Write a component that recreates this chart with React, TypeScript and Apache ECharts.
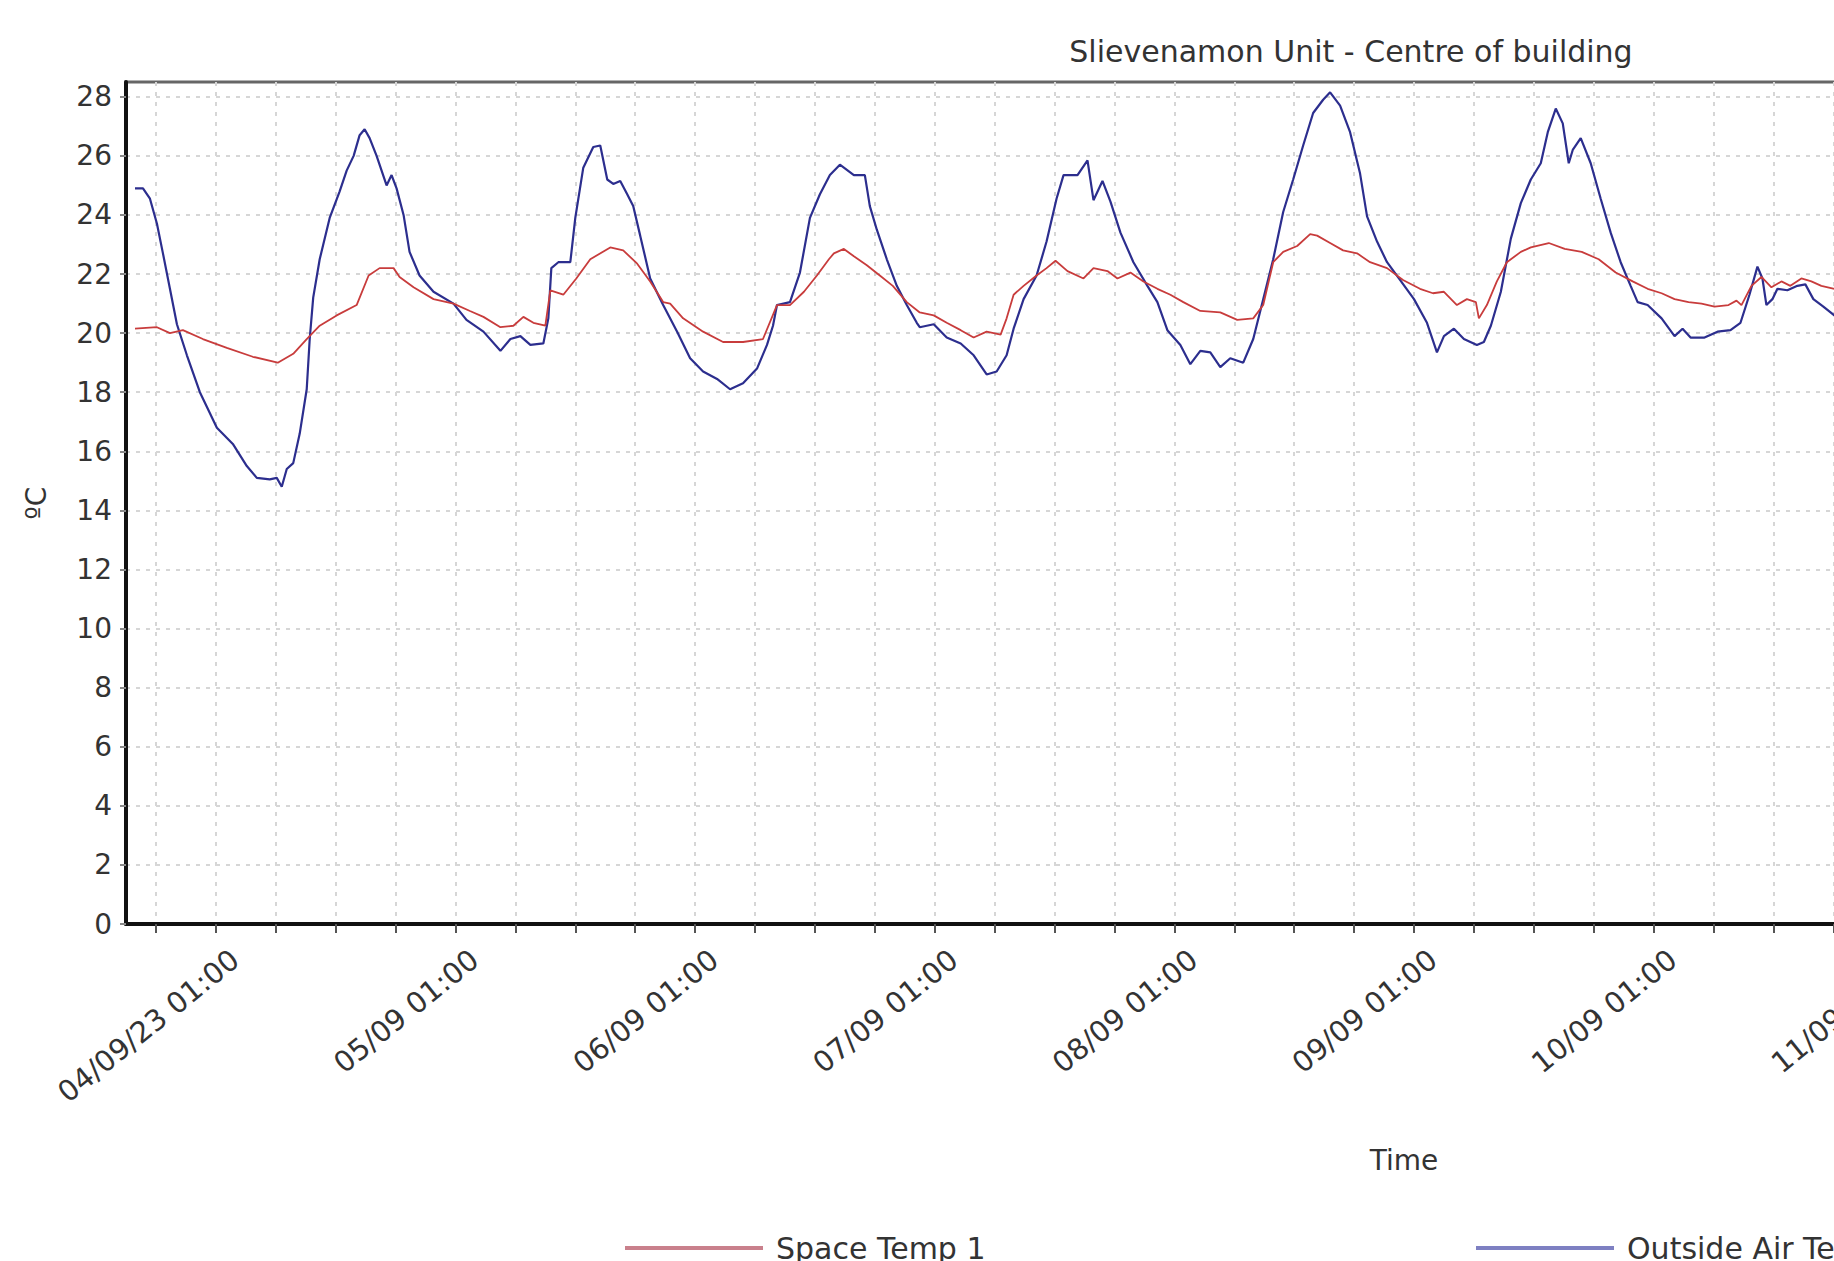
import React, { useEffect, useRef } from "react";
import * as echarts from "echarts";

// ---- Text ----
const TITLE = "Slievenamon Unit - Centre of building";
const Y_NAME = "ºC";
const X_NAME = "Time";
const SPACE_NAME = "Space Temp 1";
const OUTSIDE_NAME = "Outside Air Temperature";

// ---- X axis (hours measured from 04/09/23 01:00) ----
const X_MIN_HOURS = -9; // 03/09 16:00
const X_MAX_HOURS = 247; // right edge of the plot (beyond the picture)
const X_LABEL_HOURS = [0, 24, 48, 72, 96, 120, 144, 168, 192, 216, 240];
const X_LABEL_TEXTS = [
  "04/09/23 01:00",
  "05/09 01:00",
  "06/09 01:00",
  "07/09 01:00",
  "08/09 01:00",
  "09/09 01:00",
  "10/09 01:00",
  "11/09 01:00",
  "12/09 01:00",
  "13/09 01:00",
  "14/09 01:00",
];
const X_TICK_STEP_HOURS = 6;

// ---- Y axis ----
const Y_MIN = 0;
const Y_MAX = 28.5;
const Y_TICKS = [0, 2, 4, 6, 8, 10, 12, 14, 16, 18, 20, 22, 24, 26, 28];

// ---- Outside Air Temperature ----
const outsideHours = [
  -8.1, -7.3, -6.6, -5.9, -5.3, -4.6, -3.9, -2.9, -1.6, 0.1, 1.7, 3.1, 4.1, 5.4, 6.1, 6.6, 7.1, 7.75, 8.4, 9.1,
  9.4, 9.75, 10.4, 11.4, 12.4, 13.1, 13.8, 14.4, 14.9, 15.4, 16.1, 17.1, 17.6, 18.1, 18.8, 19.4, 20.4, 21.8, 23.8, 25.1,
  26.8, 28.5, 29.5, 30.5, 31.5, 32.8, 33.3, 33.6, 34.3, 35.5, 36.0, 36.8, 37.8, 38.5, 39.2, 39.8, 40.5, 41.2, 41.8, 42.5,
  43.5, 44.8, 46.2, 47.5, 48.8, 50.2, 51.5, 52.8, 54.2, 55.2, 55.8, 56.2, 57.5, 58.5, 59.5, 60.5, 61.5, 62.5, 63.9, 65.0,
  65.5, 66.2, 67.2, 68.2, 69.2, 70.2, 70.5, 71.9, 73.2, 74.6, 75.9, 77.2, 78.2, 79.2, 79.9, 80.9, 82.2, 83.2, 84.2, 84.9,
  86.3, 87.3, 87.9, 88.8, 89.6, 90.6, 91.9, 93.3, 94.3, 95.3, 96.6, 97.6, 98.6, 99.6, 100.6, 101.6, 102.9, 103.9, 104.9, 105.9,
  106.9, 107.9, 108.9, 109.9, 110.9, 111.6, 112.6, 113.6, 114.6, 115.3, 116.3, 117.3, 118.6, 120.0, 121.3, 122.3, 123.0, 124.0, 125.0, 126.3,
  127.0, 127.7, 128.7, 129.7, 130.7, 131.7, 132.7, 133.4, 134.2, 134.9, 135.5, 135.9, 136.7, 137.7, 138.7, 139.7, 140.7, 141.7, 142.4, 143.4,
  144.8, 146.1, 146.9, 147.7, 149.1, 150.4, 151.7, 152.7, 153.6, 154.4, 154.9, 155.3, 155.9, 156.4, 157.4, 158.4, 159.2, 160.0, 161.0, 162.1,
  163.0,
];
const outsideTemps = [
  24.9, 24.9, 24.55, 23.7, 22.7, 21.5, 20.3, 19.25, 18.0, 16.8, 16.25, 15.5, 15.1, 15.05, 15.1, 14.8, 15.4, 15.6, 16.6, 18.1,
  19.8, 21.2, 22.5, 23.9, 24.8, 25.5, 26.0, 26.7, 26.9, 26.6, 26.0, 25.0, 25.35, 24.9, 24.0, 22.75, 21.95, 21.4, 21.0, 20.45,
  20.05, 19.4, 19.8, 19.9, 19.6, 19.65, 20.5, 22.2, 22.4, 22.4, 23.9, 25.6, 26.3, 26.35, 25.2, 25.05, 25.15, 24.7, 24.3, 23.3,
  21.85, 20.95, 20.05, 19.15, 18.7, 18.45, 18.1, 18.3, 18.8, 19.6, 20.25, 20.95, 21.05, 22.05, 23.9, 24.7, 25.35, 25.7, 25.35, 25.35,
  24.3, 23.5, 22.5, 21.6, 20.95, 20.35, 20.2, 20.3, 19.85, 19.65, 19.25, 18.6, 18.7, 19.25, 20.15, 21.15, 21.95, 23.1, 24.55, 25.35,
  25.35, 25.85, 24.5, 25.15, 24.45, 23.4, 22.4, 21.6, 21.05, 20.1, 19.6, 18.95, 19.4, 19.35, 18.85, 19.15, 19.0, 19.8, 21.15, 22.5,
  24.1, 25.2, 26.35, 27.45, 27.9, 28.15, 27.7, 26.8, 25.4, 23.95, 23.1, 22.4, 21.8, 21.15, 20.35, 19.35, 19.9, 20.15, 19.8, 19.6,
  19.7, 20.25, 21.4, 23.2, 24.4, 25.2, 25.75, 26.8, 27.6, 27.1, 25.75, 26.2, 26.6, 25.75, 24.55, 23.4, 22.4, 21.6, 21.05, 20.95,
  20.5, 19.9, 20.15, 19.85, 19.85, 20.05, 20.1, 20.35, 21.3, 22.25, 21.85, 20.95, 21.15, 21.5, 21.45, 21.6, 21.65, 21.15, 20.9, 20.6,
  20.45,
];

// ---- Space Temp 1 ----
const spaceHours = [
  -8.1, -5.9, -4.6, -3.3, -1.3, 1.1, 3.7, 6.2, 7.75, 9.1, 10.4, 12.1, 14.1, 15.3, 16.4, 17.8, 18.4, 19.8, 21.8, 23.8,
  25.45, 26.8, 28.5, 29.8, 30.8, 31.8, 33.0, 33.5, 34.8, 36.1, 37.5, 39.5, 40.8, 42.2, 43.5, 44.8, 45.5, 46.8, 48.8, 50.8,
  52.8, 54.8, 56.2, 57.5, 58.9, 60.2, 61.4, 61.9, 62.9, 63.9, 65.2, 66.5, 67.8, 69.2, 70.5, 71.9, 73.2, 74.6, 75.9, 77.2,
  78.6, 79.2, 79.9, 80.9, 82.2, 83.2, 84.1, 85.3, 86.9, 87.9, 89.3, 90.3, 91.6, 92.9, 94.3, 95.6, 96.9, 98.6, 100.6, 102.3,
  103.9, 104.9, 105.9, 106.9, 108.3, 109.6, 110.3, 111.6, 112.9, 114.3, 115.6, 117.3, 118.9, 120.6, 121.9, 123.0, 124.3, 125.3, 126.2, 126.5,
  127.3, 128.3, 129.3, 130.7, 131.7, 133.5, 135.1, 136.8, 138.5, 140.2, 141.9, 143.4, 144.8, 146.1, 147.5, 148.8, 150.1, 151.5, 152.3, 152.8,
  153.8, 154.8, 155.8, 156.8, 157.7, 158.8, 159.8, 160.8, 162.1, 163.0,
];
const spaceTemps = [
  20.15, 20.2, 20.0, 20.1, 19.8, 19.5, 19.2, 19.0, 19.3, 19.8, 20.25, 20.6, 20.95, 21.95, 22.2, 22.2, 21.9, 21.55, 21.15, 21.0,
  20.75, 20.55, 20.2, 20.25, 20.55, 20.35, 20.25, 21.45, 21.3, 21.85, 22.5, 22.9, 22.8, 22.35, 21.75, 21.05, 21.0, 20.5, 20.05, 19.7,
  19.7, 19.8, 20.95, 20.95, 21.4, 21.95, 22.5, 22.7, 22.85, 22.6, 22.3, 21.95, 21.6, 21.05, 20.7, 20.6, 20.35, 20.1, 19.85, 20.05,
  19.95, 20.5, 21.3, 21.6, 21.95, 22.2, 22.45, 22.1, 21.85, 22.2, 22.1, 21.85, 22.05, 21.75, 21.5, 21.3, 21.05, 20.75, 20.7, 20.45,
  20.5, 20.95, 22.4, 22.75, 22.95, 23.35, 23.3, 23.05, 22.8, 22.7, 22.4, 22.2, 21.8, 21.5, 21.35, 21.4, 20.95, 21.15, 21.05, 20.5,
  20.95, 21.75, 22.4, 22.75, 22.9, 23.05, 22.85, 22.75, 22.5, 22.05, 21.75, 21.5, 21.35, 21.15, 21.05, 21.0, 20.9, 20.95, 21.1, 20.95,
  21.6, 21.9, 21.55, 21.75, 21.6, 21.85, 21.75, 21.6, 21.5, 21.45,
];

// ---- Styles ----
const FONT = "DejaVu Sans";
const TEXT_COLOR = "#333333";
const SPACE_COLOR = "#c83c3c";
const OUTSIDE_COLOR = "#2c2e8e";
const SPACE_LEGEND_COLOR = "#c9808c";
const OUTSIDE_LEGEND_COLOR = "#7e80c2";
const GRID_LINE = { color: "#d6d6d6", width: 2, type: [4, 6] as number[] };

const CHART_W = 2702;
const CHART_H = 1261;

function zip(xs: number[], ys: number[]) {
  return xs.map((x, i) => [x, ys[i]]);
}

export default function App() {
  const ref = useRef<HTMLDivElement>(null);

  useEffect(() => {
    if (!ref.current) return;
    const chart = echarts.init(ref.current, undefined, { renderer: "svg" });

    const tickHours: number[] = [];
    for (let h = X_MIN_HOURS + 3; h <= X_MAX_HOURS; h += X_TICK_STEP_HOURS) tickHours.push(h);

    const legendBase = {
      top: 1228,
      icon: "rect",
      itemWidth: 138,
      itemHeight: 4,
      textStyle: { fontSize: 30, color: TEXT_COLOR, fontFamily: FONT, padding: [0, 0, 0, 8] },
    };

    chart.setOption({
      animation: false,
      backgroundColor: "#ffffff",
      textStyle: { fontFamily: FONT },
      title: {
        text: TITLE,
        left: "center",
        top: 31,
        textStyle: { fontSize: 30, fontWeight: "normal", color: TEXT_COLOR, fontFamily: FONT },
      },
      legend: [
        { ...legendBase, left: 620, data: [{ name: SPACE_NAME, itemStyle: { color: SPACE_LEGEND_COLOR } }] },
        { ...legendBase, left: 1471, data: [{ name: OUTSIDE_NAME, itemStyle: { color: OUTSIDE_LEGEND_COLOR } }] },
      ],
      grid: {
        left: 126,
        right: CHART_W - 2682,
        top: 82,
        bottom: CHART_H - 924,
        show: true,
        borderColor: "#666666",
        borderWidth: 3,
      },
      xAxis: {
        type: "value",
        min: X_MIN_HOURS,
        max: X_MAX_HOURS,
        name: X_NAME,
        nameLocation: "middle",
        nameGap: 222,
        nameTextStyle: { fontSize: 28, color: TEXT_COLOR, fontFamily: FONT },
        axisLine: { show: true, onZero: false, lineStyle: { color: "#111111", width: 4 } },
        axisTick: { show: true, customValues: tickHours, length: 9, lineStyle: { color: "#555555", width: 2 } },
        axisLabel: {
          customValues: X_LABEL_HOURS,
          rotate: 39,
          fontSize: 29,
          color: TEXT_COLOR,
          fontFamily: FONT,
          margin: 8,
          verticalAlign: "top",
          padding: [16, 0, 0, 0],
          formatter: (v: number) => {
            const i = X_LABEL_HOURS.indexOf(Math.round(v));
            return i >= 0 ? X_LABEL_TEXTS[i] : "";
          },
        },
        splitLine: { show: true, lineStyle: GRID_LINE },
      },
      yAxis: {
        type: "value",
        min: Y_MIN,
        max: Y_MAX,
        name: Y_NAME,
        nameLocation: "middle",
        nameGap: 76,
        nameTextStyle: { fontSize: 28, color: TEXT_COLOR, fontFamily: FONT },
        axisLine: { show: true, onZero: false, lineStyle: { color: "#111111", width: 4 } },
        axisTick: { show: true, customValues: Y_TICKS, length: 6, lineStyle: { color: "#888888", width: 2 } },
        axisLabel: {
          customValues: Y_TICKS,
          fontSize: 28,
          color: TEXT_COLOR,
          fontFamily: FONT,
          margin: 14,
        },
        splitLine: { show: true, lineStyle: GRID_LINE },
      },
      series: [
        {
          name: OUTSIDE_NAME,
          type: "line",
          data: zip(outsideHours, outsideTemps),
          showSymbol: false,
          symbol: "none",
          lineStyle: { color: OUTSIDE_COLOR, width: 2.2 },
          itemStyle: { color: OUTSIDE_COLOR },
        },
        {
          name: SPACE_NAME,
          type: "line",
          data: zip(spaceHours, spaceTemps),
          showSymbol: false,
          symbol: "none",
          lineStyle: { color: SPACE_COLOR, width: 1.8 },
          itemStyle: { color: SPACE_COLOR },
        },
      ],
    });

    return () => chart.dispose();
  }, []);

  return (
    <div
      ref={ref}
      style={{ position: "fixed", left: 0, top: 0, width: CHART_W, height: CHART_H, background: "#fff" }}
    />
  );
}
